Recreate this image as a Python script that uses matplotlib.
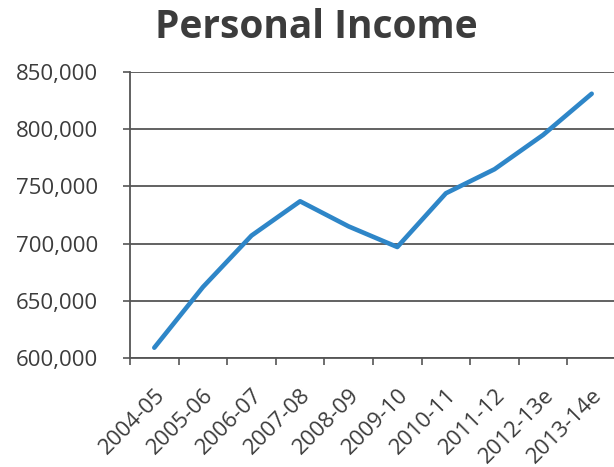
"""Personal income trend, 2004-05 through 2013-14 (estimates)."""

import matplotlib
matplotlib.use("Agg")
import matplotlib.pyplot as plt
from matplotlib.ticker import FuncFormatter, FixedLocator

# Fiscal years and personal income values
years = ["2004-05", "2005-06", "2006-07", "2007-08", "2008-09",
         "2009-10", "2010-11", "2011-12", "2012-13e", "2013-14e"]
income = [609000, 662000, 707000, 737000, 715000,
          697000, 744000, 765000, 795000, 831000]

TEXT = "#3c3c3c"
GRID = "#555555"
LINE = "#2e86c8"

plt.rcParams["font.family"] = ["Open Sans", "DejaVu Sans"]

fig = plt.figure(figsize=(6.14, 4.67), dpi=100)
ax = fig.add_axes([130 / 614, 109 / 467, 486 / 614, 286 / 467])

x = list(range(len(years)))
ax.plot(x, income, color=LINE, linewidth=3.3, solid_capstyle="round", zorder=3)

ax.set_xlim(-0.5, len(years) - 0.5)
ax.set_ylim(600000, 850000)
ax.set_yticks(range(600000, 850001, 50000))
ax.yaxis.set_major_formatter(FuncFormatter(lambda v, _: f"{v:,.0f}"))
ax.grid(axis="y", color=GRID, linewidth=1.3)
ax.set_axisbelow(True)

# tick marks sit on category boundaries, labels on category centers
ax.xaxis.set_major_locator(FixedLocator([i - 0.5 for i in range(len(years) + 1)]))
ax.xaxis.set_major_formatter(FuncFormatter(lambda v, _: ""))
ax.xaxis.set_minor_locator(FixedLocator(x))
ax.set_xticklabels(years, minor=True, rotation=45, ha="right",
                   rotation_mode="anchor", fontsize=16, color=TEXT)
ax.tick_params(axis="x", which="minor", length=0, pad=19)
ax.tick_params(axis="x", which="major", length=5, width=1.2, color=GRID)
ax.tick_params(axis="y", length=5, width=1.2, color=GRID, labelsize=16,
               labelcolor=TEXT, pad=18)

for side in ("top", "right"):
    ax.spines[side].set_visible(False)
for side in ("left", "bottom"):
    ax.spines[side].set_color(GRID)
    ax.spines[side].set_linewidth(1.3)

fig.text(316 / 614, 1 - 38 / 467, "Personal Income", ha="center", va="baseline",
         fontsize=28, fontweight="bold", color=TEXT)

fig.savefig("out.png", dpi=100)
